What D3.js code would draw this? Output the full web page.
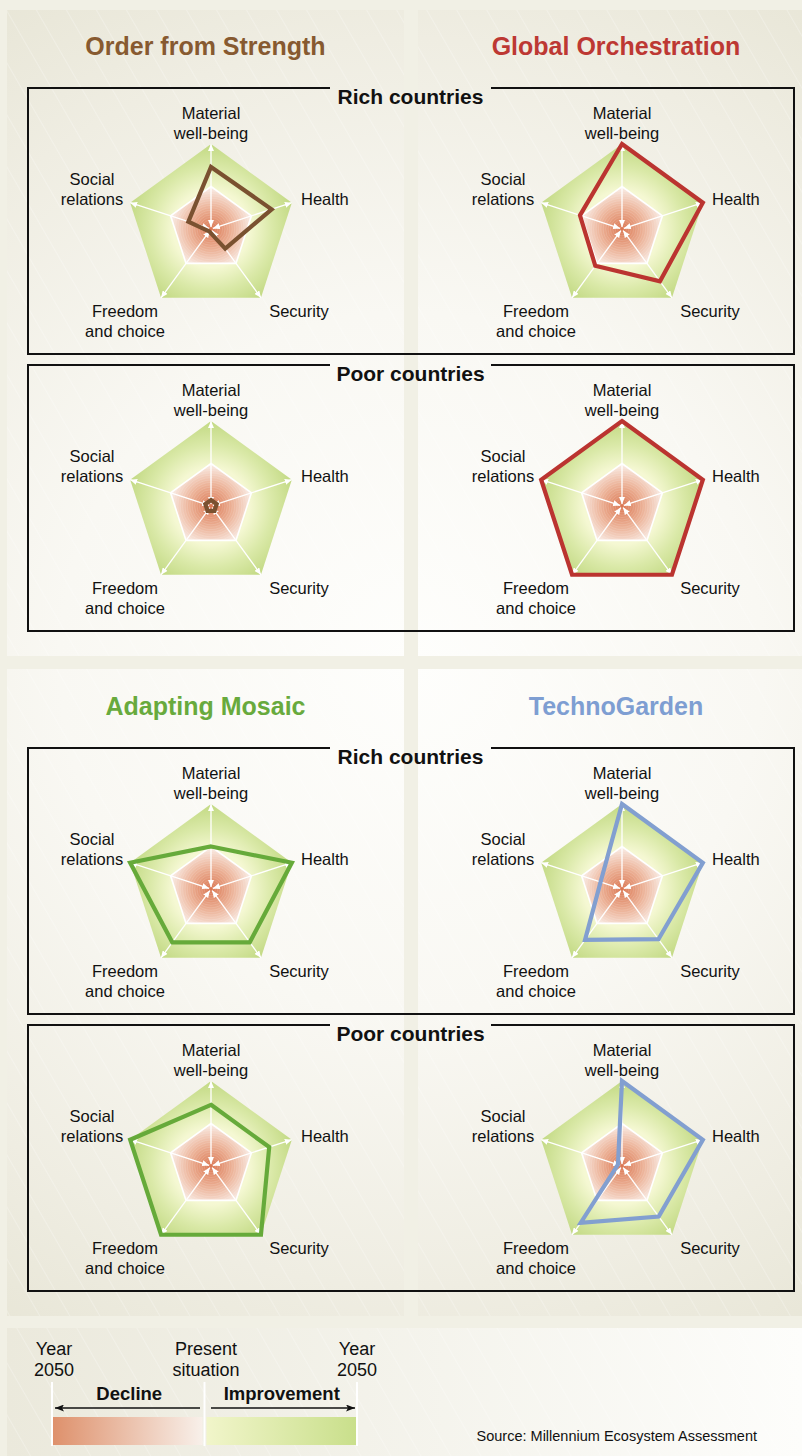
<!DOCTYPE html>
<html>
<head>
<meta charset="utf-8">
<script src="https://cdnjs.cloudflare.com/ajax/libs/d3/7.8.5/d3.min.js"></script>
<style>
  html, body { margin: 0; padding: 0; background: #f1f0e5; }
  svg { display: block; font-family: "Liberation Sans", Arial, Helvetica, sans-serif; }
</style>
</head>
<body>
<script>
// axes of the radar, clockwise from the top
const axes = ["Material well-being", "Health", "Security", "Freedom and choice", "Social relations"];
const scenarios = ["Order from Strength", "Global Orchestration", "Adapting Mosaic", "TechnoGarden"];
const groups = ["Rich countries", "Poor countries"];

// -1 = decline by 2050, 0 = present situation, 1 = improvement by 2050
const orderRich = [0.46, 0.5, -0.43, -0.93, -0.44];
const orderPoor = [-0.86, -0.86, -0.86, -0.86, -0.86];
const globalRich = [1, 1, 0.52, 0.07, 0.04];
const globalPoor = [1, 1, 1, 1, 1];
const mosaicRich = [0, 1, 0.55, 0.55, 1];
const mosaicPoor = [0.44, 0.44, 1, 1, 1];
const technoRich = [1, 1, 0.46, 0.48, -0.47];
const technoPoor = [1, 1, 0.47, 0.65, -0.9];

const legendTicks = ["Year|2050", "Present|situation", "Year|2050"];
const legendDirections = ["Decline", "Improvement"];
const source = "Source: Millennium Ecosystem Assessment";

const values = [
  [orderRich, orderPoor],
  [globalRich, globalPoor],
  [mosaicRich, mosaicPoor],
  [technoRich, technoPoor]
];
const titleColors = ["#875a30", "#bd3833", "#68aa3d", "#7e9ed2"];
const lineColors = ["#7a5130", "#bb3430", "#66aa3a", "#829fd0"];

const w = 802, h = 1456;
const R = 85;
const svg = d3.select("body").append("svg").attr("width", w).attr("height", h);
const defs = svg.append("defs");

// background gradients
const bg = defs.append("radialGradient").attr("id", "panelBg")
  .attr("gradientUnits", "userSpaceOnUse")
  .attr("cx", 411).attr("cy", 663).attr("r", 780);
bg.append("stop").attr("offset", 0).attr("stop-color", "#fefefc");
bg.append("stop").attr("offset", 0.45).attr("stop-color", "#f9f8f3");
bg.append("stop").attr("offset", 0.8).attr("stop-color", "#efede2");
bg.append("stop").attr("offset", 1).attr("stop-color", "#e8e6d7");

const lg = defs.append("linearGradient").attr("id", "legendBg")
  .attr("x1", 0).attr("x2", 1).attr("y1", 0).attr("y2", 0);
lg.append("stop").attr("offset", 0).attr("stop-color", "#ebe9dc");
lg.append("stop").attr("offset", 1).attr("stop-color", "#fdfdfb");

// faint diagonal hatching on the panels
const hatch = defs.append("pattern").attr("id", "hatch")
  .attr("patternUnits", "userSpaceOnUse").attr("width", 26).attr("height", 26)
  .attr("patternTransform", "rotate(-30)");
hatch.append("line").attr("x1", 0).attr("x2", 0).attr("y1", 0).attr("y2", 26)
  .attr("stroke", "#fff").attr("stroke-opacity", 0.35).attr("stroke-width", 1.5);

const green = defs.append("radialGradient").attr("id", "green")
  .attr("gradientUnits", "userSpaceOnUse").attr("cx", 0).attr("cy", 0).attr("r", R);
green.append("stop").attr("offset", 0.45).attr("stop-color", "#f5f8d3");
green.append("stop").attr("offset", 0.72).attr("stop-color", "#dae9a8");
green.append("stop").attr("offset", 1).attr("stop-color", "#c2d983");

const pink = defs.append("radialGradient").attr("id", "pink")
  .attr("gradientUnits", "userSpaceOnUse").attr("cx", 0).attr("cy", 0).attr("r", R / 2);
pink.append("stop").attr("offset", 0).attr("stop-color", "#da7651");
pink.append("stop").attr("offset", 0.5).attr("stop-color", "#ecb196");
pink.append("stop").attr("offset", 1).attr("stop-color", "#faf0ea");

const legDecline = defs.append("linearGradient").attr("id", "legDecline");
legDecline.append("stop").attr("offset", 0).attr("stop-color", "#de906b");
legDecline.append("stop").attr("offset", 1).attr("stop-color", "#f8f0ea");
const legImprove = defs.append("linearGradient").attr("id", "legImprove");
legImprove.append("stop").attr("offset", 0).attr("stop-color", "#f1f5ca");
legImprove.append("stop").attr("offset", 1).attr("stop-color", "#c9df8b");

// arrowheads
defs.append("marker").attr("id", "wArrow")
  .attr("markerUnits", "userSpaceOnUse")
  .attr("viewBox", "0 0 7 6").attr("refX", 7).attr("refY", 3)
  .attr("markerWidth", 7).attr("markerHeight", 6)
  .attr("orient", "auto-start-reverse")
  .append("path").attr("d", "M0,0L7,3L0,6Z").attr("fill", "#fff");
defs.append("marker").attr("id", "kArrow")
  .attr("markerUnits", "userSpaceOnUse")
  .attr("viewBox", "0 0 9 7").attr("refX", 9).attr("refY", 3.5)
  .attr("markerWidth", 9).attr("markerHeight", 7)
  .attr("orient", "auto-start-reverse")
  .append("path").attr("d", "M0,0L9,3.5L0,7L2,3.5Z").attr("fill", "#111");

// scales
const rScale = d3.scaleLinear().domain([-1, 1]).range([0, R]);
const angle = d3.scaleLinear().domain([0, axes.length]).range([0, 2 * Math.PI]);
const radial = d3.lineRadial()
  .angle((d, i) => angle(i))
  .radius((d) => rScale(d))
  .curve(d3.curveLinearClosed);

defs.append("clipPath").attr("id", "innerClip")
  .append("path").attr("d", radial(axes.map(() => 0)));

// panels
svg.append("rect").attr("width", w).attr("height", h).attr("fill", "#f1f0e5");
const panels = [[7, 10, 397, 646], [418, 10, 384, 646], [7, 669, 397, 647], [418, 669, 384, 647]];
svg.selectAll(".panel").data(panels).enter().append("rect")
  .attr("class", "panel")
  .attr("x", (d) => d[0]).attr("y", (d) => d[1])
  .attr("width", (d) => d[2]).attr("height", (d) => d[3])
  .attr("fill", "url(#panelBg)");
svg.append("rect").attr("x", 7).attr("y", 1328).attr("width", 795).attr("height", 128)
  .attr("fill", "url(#legendBg)");
svg.selectAll(".hatch").data(panels.concat([[7, 1328, 795, 128]])).enter().append("rect")
  .attr("class", "hatch")
  .attr("x", (d) => d[0]).attr("y", (d) => d[1])
  .attr("width", (d) => d[2]).attr("height", (d) => d[3])
  .attr("fill", "url(#hatch)");

// label offsets relative to radar centre
const labelPos = [
  { x: 0, y: -110, anchor: "middle" },
  { x: 90, y: -24, anchor: "start" },
  { x: 88, y: 88, anchor: "middle" },
  { x: -86, y: 88, anchor: "middle" },
  { x: -119, y: -44, anchor: "middle" }
];
const labelLines = ["Material|well-being", "Health", "Security", "Freedom|and choice", "Social|relations"];

function drawRadar(g, vals, color) {
  const full = axes.map(() => 1);
  const zero = axes.map(() => 0);
  g.append("path").attr("d", radial(full)).attr("fill", "url(#green)");
  g.append("path").attr("d", radial(zero)).attr("fill", "url(#pink)");
  // faint rings in the decline zone
  g.append("g").attr("clip-path", "url(#innerClip)")
    .selectAll("circle").data(d3.range(2, R / 2 + 6, 2.4)).enter().append("circle")
    .attr("r", (d) => d).attr("fill", "none")
    .attr("stroke", "#fff").attr("stroke-opacity", 0.13).attr("stroke-width", 1);
  g.append("path").attr("d", radial(zero)).attr("fill", "none")
    .attr("stroke", "#fff").attr("stroke-width", 1.6);

  g.selectAll(".axis").data(axes).enter().append("line")
    .attr("class", "axis")
    .attr("x1", (d, i) => 2 * Math.sin(angle(i)))
    .attr("y1", (d, i) => -2 * Math.cos(angle(i)))
    .attr("x2", (d, i) => rScale(1) * Math.sin(angle(i)))
    .attr("y2", (d, i) => -rScale(1) * Math.cos(angle(i)))
    .attr("stroke", "#fff").attr("stroke-width", 1.3)
    .attr("marker-start", "url(#wArrow)").attr("marker-end", "url(#wArrow)");

  g.append("path").attr("d", radial(vals))
    .attr("fill", "none").attr("stroke", color)
    .attr("stroke-width", 4.2).attr("stroke-linejoin", "miter");

  const lab = g.selectAll(".lab").data(labelLines).enter().append("text")
    .attr("class", "lab")
    .attr("x", (d, i) => labelPos[i].x)
    .attr("y", (d, i) => labelPos[i].y)
    .attr("text-anchor", (d, i) => labelPos[i].anchor)
    .attr("font-size", 16.5).attr("fill", "#111");
  lab.selectAll("tspan").data((d, i) => d.split("|").map((t) => ({ t, i }))).enter()
    .append("tspan")
    .attr("x", (d) => labelPos[d.i].x)
    .attr("dy", (d, j) => (j === 0 ? 0 : 20))
    .text((d) => d.t);
}

const colX = [211, 622];
scenarios.forEach((name, s) => {
  const col = s % 2, row = Math.floor(s / 2);
  const oy = row * 660;
  svg.append("text").attr("x", col === 0 ? 205.5 : 616).attr("y", 55 + oy)
    .attr("text-anchor", "middle").attr("font-size", 25).attr("font-weight", "bold")
    .attr("fill", titleColors[s]).text(name);
  groups.forEach((grp, k) => {
    const g = svg.append("g").attr("transform", `translate(${colX[col]},${229 + k * 277 + oy})`);
    drawRadar(g, values[s][k], lineColors[s]);
  });
});

// country group boxes
[0, 660].forEach((oy) => {
  groups.forEach((grp, k) => {
    const top = 88 + k * 277 + oy, bot = top + 266;
    svg.append("path")
      .attr("d", `M330,${top}H28V${bot}H794V${top}H491`)
      .attr("fill", "none").attr("stroke", "#111").attr("stroke-width", 2);
    svg.append("text").attr("x", 410.5).attr("y", top + 16)
      .attr("text-anchor", "middle").attr("font-size", 21).attr("font-weight", "bold")
      .attr("fill", "#111").text(grp);
  });
});

// legend
const legX = d3.scalePoint().domain(d3.range(legendTicks.length)).range([52, 357]);
svg.append("rect").attr("x", legX(0)).attr("y", 1417).attr("width", legX(1) - legX(0) - 2)
  .attr("height", 28).attr("fill", "url(#legDecline)");
svg.append("rect").attr("x", legX(1) + 2).attr("y", 1417).attr("width", legX(2) - legX(1) - 2)
  .attr("height", 28).attr("fill", "url(#legImprove)");
svg.selectAll(".tickline").data(legendTicks).enter().append("line")
  .attr("x1", (d, i) => legX(i)).attr("x2", (d, i) => legX(i))
  .attr("y1", 1382).attr("y2", 1446)
  .attr("stroke", "#fff").attr("stroke-width", 2);
const tickText = svg.selectAll(".ticktext").data(legendTicks).enter().append("text")
  .attr("text-anchor", "middle").attr("font-size", 18).attr("fill", "#111")
  .attr("transform", (d, i) => `translate(${[54, 206, 357][i]},1355)`);
tickText.selectAll("tspan").data((d) => d.split("|")).enter().append("tspan")
  .attr("x", 0).attr("dy", (d, j) => (j === 0 ? 0 : 21)).text((d) => d);
svg.selectAll(".dir").data(legendDirections).enter().append("text")
  .attr("x", (d, i) => (legX(i) + legX(i + 1)) / 2 + 1)
  .attr("y", 1400).attr("text-anchor", "middle")
  .attr("font-size", 18.5).attr("font-weight", "bold").attr("fill", "#111").text((d) => d);
svg.append("line").attr("x1", 200).attr("x2", 55).attr("y1", 1408).attr("y2", 1408)
  .attr("stroke", "#111").attr("stroke-width", 1.3).attr("marker-end", "url(#kArrow)");
svg.append("line").attr("x1", 211).attr("x2", 355).attr("y1", 1408).attr("y2", 1408)
  .attr("stroke", "#111").attr("stroke-width", 1.3).attr("marker-end", "url(#kArrow)");
svg.append("text").attr("x", 757).attr("y", 1441).attr("text-anchor", "end")
  .attr("font-size", 14.5).attr("fill", "#111").text(source);
</script>
</body>
</html>
